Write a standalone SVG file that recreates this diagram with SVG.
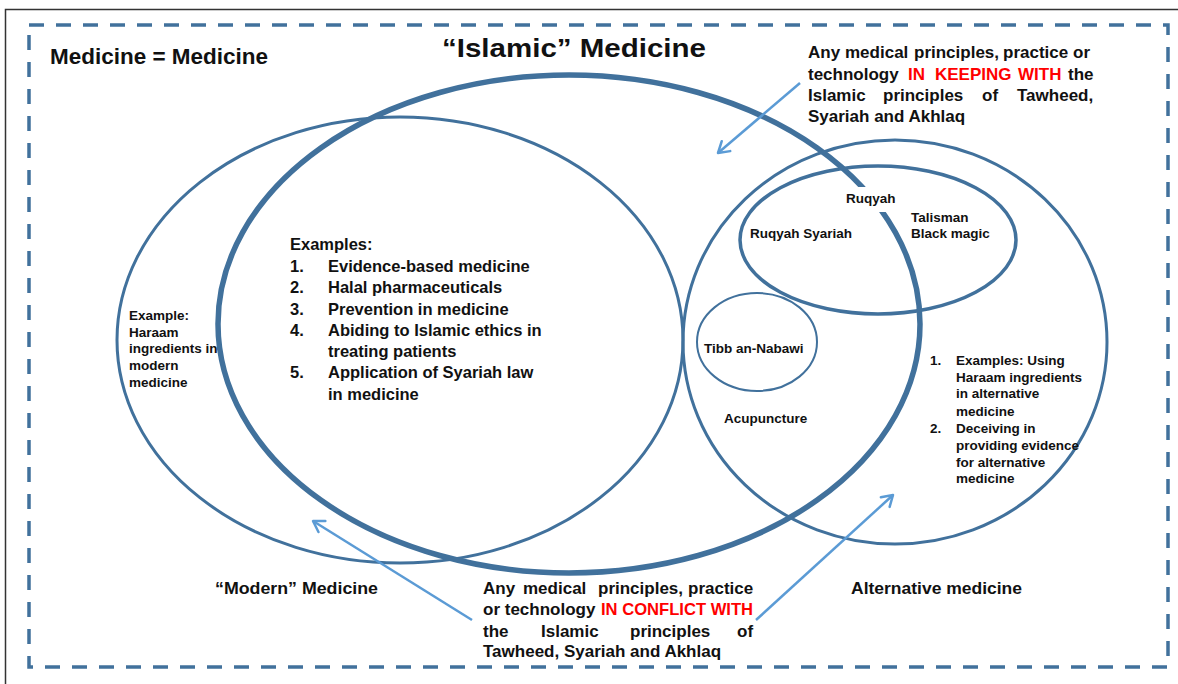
<svg xmlns="http://www.w3.org/2000/svg" width="1178" height="684" viewBox="0 0 1178 684">
<defs>
<style>
text{font-family:"Liberation Sans",Arial,sans-serif;font-weight:bold;fill:#111}
.red{fill:#ff0000}
.ring{fill:none;stroke:#41719c}
.arrow{fill:none;stroke:#5b9bd5;stroke-width:2.5;marker-end:url(#chev)}
.t17{font-size:17px}
.t16{font-size:16.5px}
.t13{font-size:13.5px}
</style>
<marker id="chev" viewBox="0 0 16 16" markerWidth="16" markerHeight="16" refX="12" refY="8" orient="auto" markerUnits="userSpaceOnUse">
<path d="M1.5,1.5 L12,8 L1.5,14.5" fill="none" stroke="#5b9bd5" stroke-width="2.5" stroke-linecap="round" stroke-linejoin="round"/>
</marker>
</defs>
<rect width="1178" height="684" fill="#fff"/>
<rect x="5.5" y="9.5" width="1180" height="700" fill="none" stroke="#333" stroke-width="1.5"/>
<g id="frame">
<path d="M29,25 H1168 V667 H29 Z" fill="none" stroke="#41719c" stroke-width="3.5" stroke-dasharray="15 12"/>
<text x="50" y="64" style="font-size:21.5px" textLength="218" lengthAdjust="spacingAndGlyphs">Medicine = Medicine</text>
</g>
<g id="modern">
<ellipse class="ring" cx="400" cy="340" rx="283" ry="223" stroke-width="3"/>
<text class="t13" x="129" y="320">Example:</text>
<text class="t13" x="129" y="337">Haraam</text>
<text class="t13" x="129" y="353">ingredients in</text>
<text class="t13" x="129" y="370">modern</text>
<text class="t13" x="129" y="387">medicine</text>
<text class="t17" x="215" y="594" textLength="163" lengthAdjust="spacingAndGlyphs">“Modern” Medicine</text>
</g>
<g id="islamic">
<ellipse class="ring" cx="569" cy="324" rx="351" ry="249" stroke-width="5.5"/>
<text x="442" y="57" style="font-size:26px" textLength="264" lengthAdjust="spacingAndGlyphs">“Islamic” Medicine</text>
<text class="t16" x="290" y="250">Examples:</text>
<text class="t16" x="290" y="272">1.</text><text class="t16" x="328" y="272">Evidence-based medicine</text>
<text class="t16" x="290" y="293">2.</text><text class="t16" x="328" y="293">Halal pharmaceuticals</text>
<text class="t16" x="290" y="315">3.</text><text class="t16" x="328" y="315">Prevention in medicine</text>
<text class="t16" x="290" y="336">4.</text><text class="t16" x="328" y="336">Abiding to Islamic ethics in</text>
<text class="t16" x="328" y="357">treating patients</text>
<text class="t16" x="290" y="378">5.</text><text class="t16" x="328" y="378">Application of Syariah law</text>
<text class="t16" x="328" y="400">in medicine</text>
</g>
<g id="alternative">
<ellipse class="ring" cx="895" cy="342" rx="212" ry="202" stroke-width="3"/>
<text class="t17" x="851" y="594" textLength="171" lengthAdjust="spacingAndGlyphs">Alternative medicine</text>
<text class="t13" x="724" y="423">Acupuncture</text>
<text class="t13" x="930" y="365">1.</text><text class="t13" x="956" y="365">Examples: Using</text>
<text class="t13" x="956" y="382">Haraam ingredients</text>
<text class="t13" x="956" y="398">in alternative</text>
<text class="t13" x="956" y="416">medicine</text>
<text class="t13" x="930" y="433">2.</text><text class="t13" x="956" y="433">Deceiving in</text>
<text class="t13" x="956" y="450">providing evidence</text>
<text class="t13" x="956" y="467">for alternative</text>
<text class="t13" x="956" y="483">medicine</text>
</g>
<g id="ruqyah">
<ellipse class="ring" cx="878" cy="240" rx="138" ry="74" stroke-width="3.5"/>
<rect x="843" y="187" width="54" height="25" fill="#fff"/>
<text class="t13" x="846" y="203">Ruqyah</text>
<text class="t13" x="750" y="238">Ruqyah Syariah</text>
<text class="t13" x="911" y="222">Talisman</text>
<text class="t13" x="911" y="238">Black magic</text>
</g>
<g id="tibb">
<ellipse class="ring" cx="757" cy="342" rx="60" ry="49" stroke-width="2"/>
<text class="t13" x="704" y="353">Tibb an-Nabawi</text>
</g>
<g id="keeping-note">
<text class="t17" y="58"><tspan x="808">Any</tspan><tspan x="845">medical</tspan><tspan x="914">principles,</tspan><tspan x="1003">practice</tspan><tspan x="1073">or</tspan></text>
<text class="t17" y="80"><tspan x="808">technology</tspan><tspan class="red" x="908">IN</tspan><tspan class="red" x="935">KEEPING</tspan><tspan class="red" x="1018">WITH</tspan><tspan x="1068">the</tspan></text>
<text class="t17" y="101"><tspan x="808">Islamic</tspan><tspan x="883">principles</tspan><tspan x="982">of</tspan><tspan x="1017">Tawheed,</tspan></text>
<text class="t17" x="808" y="122">Syariah and Akhlaq</text>
</g>
<g id="conflict-note">
<text class="t17" y="594"><tspan x="483">Any</tspan><tspan x="523">medical</tspan><tspan x="598">principles,</tspan><tspan x="688">practice</tspan></text>
<text class="t17" y="615"><tspan x="483">or technology</tspan><tspan class="red" x="601" textLength="152" lengthAdjust="spacingAndGlyphs">IN CONFLICT WITH</tspan></text>
<text class="t17" y="637"><tspan x="483">the</tspan><tspan x="541">Islamic</tspan><tspan x="630">principles</tspan><tspan x="737">of</tspan></text>
<text class="t17" x="483" y="657">Tawheed, Syariah and Akhlaq</text>
</g>
<g id="connectors">
<line class="arrow" x1="800" y1="83" x2="718" y2="153"/>
<line class="arrow" x1="472" y1="620" x2="313" y2="521"/>
<line class="arrow" x1="756" y1="620" x2="893" y2="495"/>
</g>
</svg>
